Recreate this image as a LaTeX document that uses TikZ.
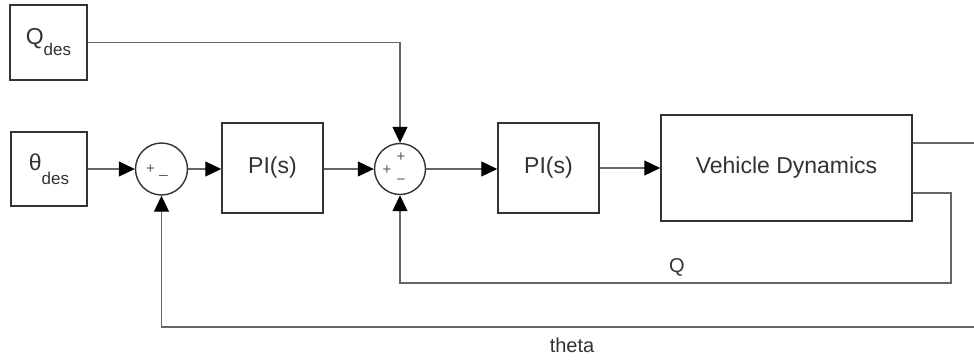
\documentclass[tikz,border=0pt]{standalone}
\usepackage{fontspec}
\setmainfont{Liberation Sans}
\usetikzlibrary{arrows.meta,calc}
\begin{document}
\begin{tikzpicture}[x=1pt,y=-1pt,
  blk/.style={draw=black!80,line width=1.5pt,fill=white,inner sep=0pt,text=black!80,font=\fontsize{23}{26}\selectfont},
  sumc/.style={draw=black!80,line width=1.4pt,circle,inner sep=0pt,minimum size=52pt,fill=white},
  sig/.style={draw=black!60,line width=1.1pt},
  arr/.style={sig,-{Triangle[length=16pt,width=15pt,color=black]}},
  lbl/.style={text=black!80,font=\fontsize{20}{24}\selectfont},
  sgn/.style={text=black!65,inner sep=0pt,font=\fontsize{15}{17}\selectfont}
]
\useasboundingbox (0,0) rectangle (974,360);
\fill[white] (0,0) rectangle (974,360);

\node[blk,minimum width=77pt,minimum height=75pt] (qdes) at (48.5,42.5)
  {Q\raisebox{-11pt}{\fontsize{17}{19}\selectfont des}};
\node[blk,minimum width=76pt,minimum height=74pt] (tdes) at (49,169)
  {θ\raisebox{-14pt}{\fontsize{17}{19}\selectfont des}};
\node[sumc] (sum1) at (161.5,169) {};
\node[blk,minimum width=101pt,minimum height=90pt] (pi1) at (272.5,168) {PI(s)};
\node[sumc,minimum size=51pt] (sum2) at (400,169) {};
\node[blk,minimum width=101pt,minimum height=90pt] (pi2) at (548.5,168) {PI(s)};
\node[blk,minimum width=251pt,minimum height=106pt] (vd) at (786.5,168) {Vehicle Dynamics};

\node[sgn] (s1p) at ($(sum1)+(-11,0)$) {+};
\node[sgn] (s1m) at ($(sum1)+(2,6)$) {\_};
\node[sgn] (s2p) at ($(sum2)+(-13,1)$) {+};
\node[sgn] (s2t) at ($(sum2)+(1,-12)$) {+};
\node[sgn] (s2m) at ($(sum2)+(1,13)$) {−};

\coordinate (o1) at ($(vd.east)+(0,-25)$);
\coordinate (o1e) at (974,143);
\coordinate (o2) at ($(vd.east)+(0,25)$);
\coordinate (qr) at (951,283);
\coordinate (te) at (974,327);

\draw[arr] (tdes.east |- sum1) -- (sum1);
\draw[arr] (sum1) -- (pi1.west |- sum1);
\draw[arr] (pi1.east |- sum2) -- (sum2);
\draw[arr] (sum2) -- (pi2.west |- sum2);
\draw[arr] (pi2) -- (vd);
\draw[arr] (qdes.east) -| (sum2.north);
\draw[sig] (o1) -- (o1e);
\draw[arr] (o2) -| (qr) -| (sum2.south);
\draw[arr] (te) -| (sum1.south);

\node[lbl] (ql) at (677,267) {Q};
\node[lbl] (thl) at (572,345) {theta};
\end{tikzpicture}
\end{document}
